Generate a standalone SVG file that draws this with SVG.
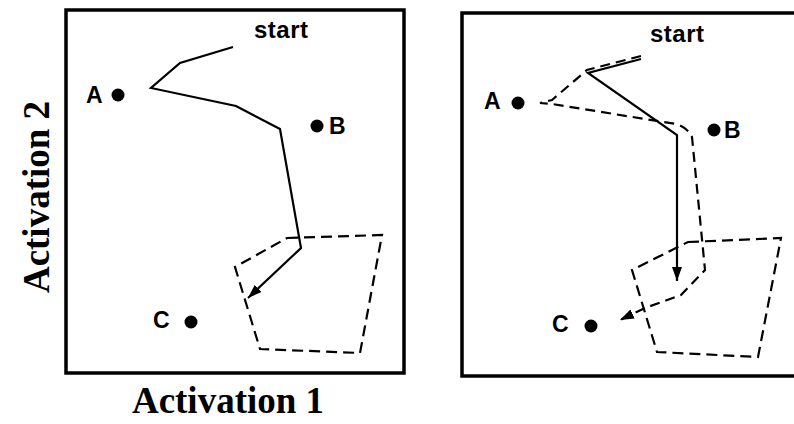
<svg xmlns="http://www.w3.org/2000/svg" width="794" height="424" viewBox="0 0 794 424">
<style>
.frame{fill:none;stroke:#000;stroke-width:3.5}
.traj{fill:none;stroke:#000;stroke-width:2.2;stroke-linejoin:miter}
.dash{fill:none;stroke:#000;stroke-width:2.2;stroke-dasharray:11 6}
.lbl{font-family:"Liberation Sans",Arial,sans-serif;font-weight:bold;font-size:23px;fill:#000}
.start{font-family:"Liberation Sans",Arial,sans-serif;font-weight:bold;font-size:24px;letter-spacing:0.5px;fill:#000}
.axis{font-family:"Liberation Serif","Times New Roman",serif;font-weight:bold;font-size:37px;fill:#000}
.dot{fill:#000}
</style>
<defs>
<marker id="ah" markerUnits="userSpaceOnUse" viewBox="0 0 14 10" refX="14" refY="5" markerWidth="14" markerHeight="10" orient="auto">
<path d="M0,0 L14,5 L0,10 z" fill="#000"/>
</marker>
</defs>
<g id="axes">
<text class="axis" transform="translate(49,197) rotate(-90)" text-anchor="middle">Activation 2</text>
<text class="axis" x="228" y="413" text-anchor="middle">Activation 1</text>
</g>
<g id="panel-left">
<rect class="frame" x="66" y="10" width="338" height="363"/>
<g id="left-start"><text class="start" x="254" y="38">start</text></g>
<g id="left-A"><text class="lbl" x="86" y="103">A</text><circle class="dot" cx="118" cy="95" r="6.5"/></g>
<g id="left-B"><circle class="dot" cx="317" cy="126" r="6.5"/><text class="lbl" x="329" y="134">B</text></g>
<g id="left-C"><text class="lbl" x="153" y="328">C</text><circle class="dot" cx="191" cy="322" r="6.5"/></g>
<g id="left-region"><polygon class="dash" points="287,238 382,235 360,353 260,349 235,267"/></g>
</g>
<g id="panel-right">
<path class="frame" d="M794,13 H462 V376 H794"/>
<g id="right-start"><text class="start" x="650" y="42">start</text></g>
<g id="right-A"><text class="lbl" x="484" y="109">A</text><circle class="dot" cx="518" cy="103" r="6.5"/></g>
<g id="right-B"><circle class="dot" cx="714" cy="130" r="6.5"/><text class="lbl" x="724" y="138">B</text></g>
<g id="right-C"><text class="lbl" x="552" y="332">C</text><circle class="dot" cx="591" cy="326" r="6.5"/></g>
<g id="right-region"><polygon class="dash" points="688,242 781,238 758,357 657,352 632,270"/></g>
</g>
<g id="connectors">
<path class="traj" d="M233,47 L180,63 L151,88 L236,106 L280,129 L301,248 L248,298" marker-end="url(#ah)"/>
<path class="traj" d="M641,59 L588,73 L677,135 L677,281" marker-end="url(#ah)"/>
<path class="dash" d="M641,56 L587,70 L552,100 L540,103 L552,104 L676,124 Q688,128 692,137 L705,270 L681,295 L645,308 L620,320" marker-end="url(#ah)" style="stroke-dasharray:10 6"/>
</g>
</svg>
